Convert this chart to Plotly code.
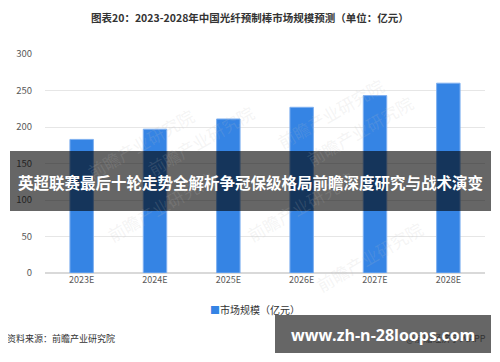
import plotly.graph_objects as go

categories = ["2023E", "2024E", "2025E", "2026E", "2027E", "2028E"]
values = [183, 197, 211, 227, 243, 260]
series_name = "市场规模（亿元）"
title_text = "图表20：2023-2028年中国光纤预制棒市场规模预测（单位：亿元）"
source_text = "资料来源：前瞻产业研究院"
banner_text = "英超联赛最后十轮走势全解析争冠保级格局前瞻深度研究与战术演变"
url_text = "www.zh-n-28loops.com"

OFF = 8  # page body margin
W, H = 500 - OFF, 362 - OFF
# plot area in screen pixels: x 45..485, y 54..273
PL, PR, PT, PB = 45, 485, 54, 273
L, T = PL - OFF, PT - OFF
R = W - (PR - OFF)
B = H - (PB - OFF)
pw, ph = PR - PL, PB - PT
BAR_COLOR = "#3584e4"

def px(x):
    return (x - PL) / pw

def py(y):
    return (PB - y) / ph

FONT = "Noto Sans CJK SC, Noto Sans, sans-serif"

fig = go.Figure()
fig.add_trace(go.Bar(
    x=categories, y=values, name=series_name,
    marker=dict(color=BAR_COLOR, line=dict(color="#7fb0f0", width=1)),
    showlegend=False,
))

annotations = []
# watermarks
for (x, y) in [(80, 100), (330, 70), (100, 250), (200, 140), (420, 130), (430, 300), (300, 250)]:
    annotations.append(dict(x=px(x), y=py(y), xref="paper", yref="paper", text="前瞻产业研究院",
                            showarrow=False, textangle=-30,
                            font=dict(family=FONT, size=17, color="rgba(190,190,190,0.16)")))
annotations += [
    dict(x=px(250), xref="paper", y=py(17), yref="paper", text="<b>" + title_text + "</b>",
         showarrow=False, xanchor="center", yanchor="middle",
         font=dict(family=FONT, size=10.5, color="#333333")),
    dict(x=px(5), xref="paper", y=py(338), yref="paper", text=source_text,
         showarrow=False, xanchor="left", yanchor="middle",
         font=dict(family=FONT, size=9, color="#333333")),
    dict(x=px(488), xref="paper", y=py(338), yref="paper", text="@前瞻经济学人APP",
         showarrow=False, xanchor="right", yanchor="middle",
         font=dict(family=FONT, size=9, color="#333333")),
    # legend
    dict(x=px(255), xref="paper", y=py(309), yref="paper",
         text="<span style='color:" + BAR_COLOR + "'>■</span>" + series_name,
         showarrow=False, xanchor="center", yanchor="middle",
         font=dict(family=FONT, size=10, color="#333333")),
]

shapes = [
    dict(type="rect", xref="paper", yref="paper", x0=px(10), x1=px(491), y0=py(211), y1=py(151),
         fillcolor="rgba(0,0,0,0.6)", line=dict(width=0), layer="above"),
    dict(type="rect", xref="paper", yref="paper", x0=px(275), x1=px(491), y0=py(353), y1=py(315),
         fillcolor="rgba(102,102,102,1)", line=dict(width=0), layer="above"),
]

annotations += [
    dict(x=px(250), xref="paper", y=py(182), yref="paper", text="<b>" + banner_text + "</b>",
         showarrow=False, xanchor="center", yanchor="middle",
         font=dict(family=FONT, size=15.5, color="white")),
    dict(x=px(383), xref="paper", y=py(335), yref="paper", text="<b>" + url_text + "</b>",
         showarrow=False, xanchor="center", yanchor="middle",
         font=dict(family="Open Sans, DejaVu Sans, sans-serif", size=16, color="white")),
]

fig.update_layout(
    width=W, height=H,
    margin=dict(l=L, r=R, t=T, b=B, pad=0, autoexpand=False),
    paper_bgcolor="white", plot_bgcolor="white",
    bargap=0.68,
    showlegend=False,
    font=dict(family=FONT, size=9, color="#595959"),
    xaxis=dict(showgrid=False, showline=False, ticks="", tickfont=dict(size=9, color="#595959")),
    yaxis=dict(range=[0, 300], dtick=50, showgrid=True, gridcolor="#e6e6e6", gridwidth=1,
               zeroline=True, zerolinecolor="#d9d9d9", zerolinewidth=2,
               ticks="", ticklabelstandoff=12, tickfont=dict(size=9.5, color="#595959")),
    shapes=shapes,
    annotations=annotations,
)

fig.write_html("out.html")
